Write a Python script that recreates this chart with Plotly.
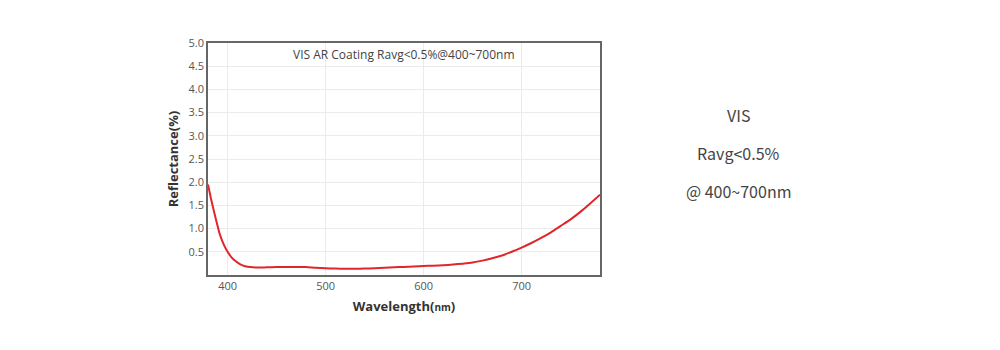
import plotly.graph_objects as go

wavelength = [380, 383, 386, 389, 392, 396, 400, 404, 408, 413, 418, 423, 430, 440, 450, 460, 470, 480, 490, 500, 510, 520, 530, 540, 550, 560, 570, 580, 590, 600, 610, 620, 630, 640, 650, 660, 670, 680, 690, 700, 710, 720, 730, 740, 750, 760, 770, 780]
reflectance = [1.95, 1.65, 1.38, 1.12, 0.88, 0.66, 0.5, 0.38, 0.3, 0.23, 0.19, 0.17, 0.16, 0.165, 0.17, 0.17, 0.175, 0.17, 0.155, 0.145, 0.14, 0.135, 0.135, 0.14, 0.145, 0.155, 0.165, 0.175, 0.185, 0.195, 0.2, 0.21, 0.225, 0.245, 0.27, 0.31, 0.36, 0.42, 0.5, 0.59, 0.69, 0.8, 0.92, 1.06, 1.2, 1.36, 1.54, 1.73]

x_ticks = [400, 500, 600, 700]
y_ticks = [0.5, 1.0, 1.5, 2.0, 2.5, 3.0, 3.5, 4.0, 4.5, 5.0]
y_tick_labels = ["0.5", "1.0", "1.5", "2.0", "2.5", "3.0", "3.5", "4.0", "4.5", "5.0"]

chart_title = "VIS AR Coating Ravg<0.5%@400~700nm"
side_lines = ["VIS", "Ravg<0.5%", "@ 400~700nm"]

fig = go.Figure()
fig.add_trace(go.Scatter(
    x=wavelength, y=reflectance, mode="lines",
    line=dict(color="#e0262b", width=2, shape="spline", smoothing=0.6),
    hoverinfo="x+y", showlegend=False,
))

fig.update_layout(
    width=1000, height=350,
    margin=dict(l=200, r=408, t=35, b=83),
    paper_bgcolor="white", plot_bgcolor="white",
    font=dict(family="Open Sans, Noto Sans, sans-serif", color="#555"),
    xaxis=dict(
        range=[380, 780], tickvals=x_ticks, ticktext=[str(v) for v in x_ticks],
        showgrid=True, gridcolor="#ebebeb", gridwidth=1,
        showline=True, linecolor="#666", linewidth=1.5, mirror=True,
        ticks="", tickfont=dict(size=11, color="#555"), zeroline=False,
        title=dict(text="<b>Wavelength(<span style='font-size:10px'>nm</span>)</b>",
                   font=dict(size=13, color="#333"), standoff=10),
    ),
    yaxis=dict(
        range=[0, 5.0], tickvals=y_ticks, ticktext=y_tick_labels,
        showgrid=True, gridcolor="#ebebeb", gridwidth=1,
        showline=True, linecolor="#666", linewidth=1.5, mirror=True,
        ticks="", tickfont=dict(size=11, color="#555"), zeroline=False,
        title=dict(text="<b>Reflectance(%)</b>", font=dict(size=13, color="#333"), standoff=7),
    ),
)

fig.add_annotation(
    text=chart_title, xref="paper", yref="paper", x=0.5, y=0.995,
    xanchor="center", yanchor="top", showarrow=False,
    font=dict(size=12, color="#444"),
)

for i, line in enumerate(side_lines):
    fig.add_annotation(
        text=line, xref="paper", yref="paper",
        x=(738 - 208) / 392, y=(275 - (115 + 38 * i)) / 232,
        xanchor="center", yanchor="middle", showarrow=False,
        font=dict(size=16, color="#444", family="Noto Sans CJK SC, Noto Sans, sans-serif"),
    )

fig.write_html("out.html")
